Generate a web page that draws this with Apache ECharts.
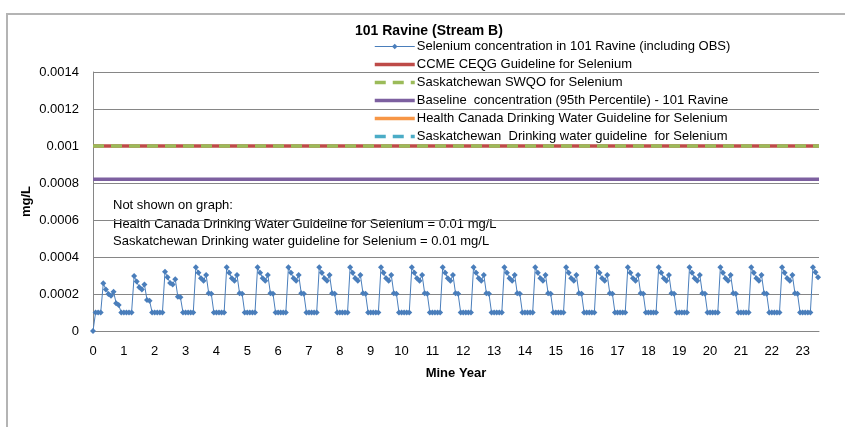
<!DOCTYPE html>
<html>
<head>
<meta charset="utf-8">
<script src="https://cdn.jsdelivr.net/npm/echarts@6/dist/echarts.min.js"></script>
<style>
html, body { margin: 0; padding: 0; background: #fff; }
#chart { width: 845px; height: 427px; }
</style>
</head>
<body>
<div id="chart"></div>
<script>
// monthly selenium concentration (mg/L), one row per mine year
var seleniumByYear = [
	[0, 0.0001, 0.0001, 0.0001, 0.000258, 0.000225, 0.0002, 0.00019, 0.000212, 0.00015, 0.00014, 0.0001],
	[0.0001, 0.0001, 0.0001, 0.0001, 0.000297, 0.000267, 0.000236, 0.000225, 0.000252, 0.000168, 0.000164, 0.0001],
	[0.0001, 0.0001, 0.0001, 0.0001, 0.00032, 0.00029, 0.00026, 0.000252, 0.00028, 0.000185, 0.000182, 0.0001],
	[0.0001, 0.0001, 0.0001, 0.0001, 0.000344, 0.000315, 0.000285, 0.000272, 0.000303, 0.000204, 0.000202, 0.0001],
	[0.0001, 0.0001, 0.0001, 0.0001, 0.000344, 0.000315, 0.000285, 0.000272, 0.000303, 0.000204, 0.000202, 0.0001],
	[0.0001, 0.0001, 0.0001, 0.0001, 0.000344, 0.000315, 0.000285, 0.000272, 0.000303, 0.000204, 0.000202, 0.0001],
	[0.0001, 0.0001, 0.0001, 0.0001, 0.000344, 0.000315, 0.000285, 0.000272, 0.000303, 0.000204, 0.000202, 0.0001],
	[0.0001, 0.0001, 0.0001, 0.0001, 0.000344, 0.000315, 0.000285, 0.000272, 0.000303, 0.000204, 0.000202, 0.0001],
	[0.0001, 0.0001, 0.0001, 0.0001, 0.000344, 0.000315, 0.000285, 0.000272, 0.000303, 0.000204, 0.000202, 0.0001],
	[0.0001, 0.0001, 0.0001, 0.0001, 0.000344, 0.000315, 0.000285, 0.000272, 0.000303, 0.000204, 0.000202, 0.0001],
	[0.0001, 0.0001, 0.0001, 0.0001, 0.000344, 0.000315, 0.000285, 0.000272, 0.000303, 0.000204, 0.000202, 0.0001],
	[0.0001, 0.0001, 0.0001, 0.0001, 0.000344, 0.000315, 0.000285, 0.000272, 0.000303, 0.000204, 0.000202, 0.0001],
	[0.0001, 0.0001, 0.0001, 0.0001, 0.000344, 0.000315, 0.000285, 0.000272, 0.000303, 0.000204, 0.000202, 0.0001],
	[0.0001, 0.0001, 0.0001, 0.0001, 0.000344, 0.000315, 0.000285, 0.000272, 0.000303, 0.000204, 0.000202, 0.0001],
	[0.0001, 0.0001, 0.0001, 0.0001, 0.000344, 0.000315, 0.000285, 0.000272, 0.000303, 0.000204, 0.000202, 0.0001],
	[0.0001, 0.0001, 0.0001, 0.0001, 0.000344, 0.000315, 0.000285, 0.000272, 0.000303, 0.000204, 0.000202, 0.0001],
	[0.0001, 0.0001, 0.0001, 0.0001, 0.000344, 0.000315, 0.000285, 0.000272, 0.000303, 0.000204, 0.000202, 0.0001],
	[0.0001, 0.0001, 0.0001, 0.0001, 0.000344, 0.000315, 0.000285, 0.000272, 0.000303, 0.000204, 0.000202, 0.0001],
	[0.0001, 0.0001, 0.0001, 0.0001, 0.000344, 0.000315, 0.000285, 0.000272, 0.000303, 0.000204, 0.000202, 0.0001],
	[0.0001, 0.0001, 0.0001, 0.0001, 0.000344, 0.000315, 0.000285, 0.000272, 0.000303, 0.000204, 0.000202, 0.0001],
	[0.0001, 0.0001, 0.0001, 0.0001, 0.000344, 0.000315, 0.000285, 0.000272, 0.000303, 0.000204, 0.000202, 0.0001],
	[0.0001, 0.0001, 0.0001, 0.0001, 0.000344, 0.000315, 0.000285, 0.000272, 0.000303, 0.000204, 0.000202, 0.0001],
	[0.0001, 0.0001, 0.0001, 0.0001, 0.000344, 0.000315, 0.000285, 0.000272, 0.000303, 0.000204, 0.000202, 0.0001],
	[0.0001, 0.0001, 0.0001, 0.0001, 0.000344, 0.000318, 0.00029]
];

// guideline values (mg/L)
var ccmeGuideline = 0.001;
var skSwqo = 0.001;
var baseline95 = 0.00082;
var hcDrinking = 0.01;
var skDrinking = 0.01;

var yearTicks = [0, 23.53];
var mgTicks = [0, 0.0014, 0.0002];

var seriesNames = [
	'Selenium concentration in 101 Ravine (including OBS)',
	'CCME CEQG Guideline for Selenium',
	'Saskatchewan SWQO for Selenium',
	'Baseline  concentration (95th Percentile) - 101 Ravine',
	'Health Canada Drinking Water Guideline for Selenium',
	'Saskatchewan  Drinking water guideline  for Selenium'
];

var font = '"Liberation Sans", Arial, sans-serif';

// mine year = year + month / 12
var seleniumPoints = [];
seleniumByYear.forEach(function (row, year) {
	row.forEach(function (v, month) {
		seleniumPoints.push([year + month / 12, v]);
	});
});

function flat(v) {
	return [[yearTicks[0], v], [yearTicks[1], v]];
}

// legend entries: only the measured series shows its marker
var legendData = seriesNames.map(function (name, i) {
	if (i === 0) return { name: name };
	return { name: name, itemStyle: { opacity: 0, color: 'transparent', borderWidth: 0 } };
});

var myChart = echarts.init(document.getElementById('chart'));
var option = {
	animation: false,
	backgroundColor: '#fff',
	textStyle: { fontFamily: font },
	title: {
		text: '101 Ravine (Stream B)',
		left: 350,
		top: 19,
		textStyle: { fontSize: 14, fontWeight: 'bold', color: '#000', fontFamily: font }
	},
	legend: {
		orient: 'vertical',
		left: 373,
		top: 40,
		itemWidth: 40,
		itemHeight: 7,
		itemGap: 5,
		padding: 0,
		data: legendData,
		lineStyle: { width: 'inherit' },
		textStyle: { fontSize: 13, lineHeight: 13, color: '#000', fontFamily: font, padding: [0, 0, 0, -3] }
	},
	grid: {
		left: 93,
		right: 26,
		top: 72,
		bottom: 96
	},
	xAxis: {
		type: 'value',
		name: 'Mine Year',
		nameLocation: 'middle',
		nameGap: 36,
		nameTextStyle: { fontSize: 13, fontWeight: 'bold', color: '#000' },
		min: yearTicks[0],
		max: yearTicks[1],
		interval: 1,
		axisLine: { lineStyle: { color: '#868686', width: 1 } },
		axisTick: { show: false },
		axisLabel: { color: '#000', fontSize: 13, margin: 14, showMaxLabel: false },
		splitLine: { show: false }
	},
	yAxis: {
		type: 'value',
		name: 'mg/L',
		nameLocation: 'middle',
		nameGap: 60,
		nameMoveOverlap: false,
		nameTextStyle: { fontSize: 13, fontWeight: 'bold', color: '#000' },
		min: mgTicks[0],
		max: mgTicks[1],
		interval: mgTicks[2],
		axisLine: { show: true, lineStyle: { color: '#868686', width: 1 } },
		axisTick: { show: false },
		axisLabel: {
			color: '#000', fontSize: 13, margin: 14,
			formatter: function (v) { return String(+v.toFixed(4)); }
		},
		splitLine: { lineStyle: { color: '#868686', width: 1 } }
	},
	graphic: [
		{
			type: 'rect',
			shape: { x: 7, y: 14, width: 900, height: 500 },
			style: { fill: 'none', stroke: '#b4b4b4', lineWidth: 2 },
			silent: true
		},
		{
			type: 'text', left: 113, top: 199,
			style: { text: 'Not shown on graph:', fill: '#000', font: '13px ' + font }
		},
		{
			type: 'text', left: 113, top: 218,
			style: { text: 'Health Canada Drinking Water Guideline for Selenium = 0.01 mg/L', fill: '#000', font: '13px ' + font }
		},
		{
			type: 'text', left: 113, top: 235,
			style: { text: 'Saskatchewan Drinking water guideline for Selenium = 0.01 mg/L', fill: '#000', font: '13px ' + font }
		}
	],
	series: [
		{
			name: seriesNames[0],
			type: 'line',
			data: seleniumPoints,
			symbol: 'diamond',
			symbolSize: 6,
			z: 5,
			itemStyle: { color: '#4a7ebb' },
			lineStyle: { color: '#4a7ebb', width: 1 }
		},
		{
			name: seriesNames[1],
			type: 'line',
			data: flat(ccmeGuideline),
			symbol: 'none',
			itemStyle: { color: '#be4b48' },
			lineStyle: { color: '#be4b48', width: 3.5 }
		},
		{
			name: seriesNames[2],
			type: 'line',
			data: flat(skSwqo),
			symbol: 'none',
			itemStyle: { color: '#9bbb59' },
			lineStyle: { color: '#9bbb59', width: 3.5, type: [11, 7] }
		},
		{
			name: seriesNames[3],
			type: 'line',
			data: flat(baseline95),
			symbol: 'none',
			itemStyle: { color: '#7d60a0' },
			lineStyle: { color: '#7d60a0', width: 3.5 }
		},
		{
			name: seriesNames[4],
			type: 'line',
			data: flat(hcDrinking),
			symbol: 'none',
			itemStyle: { color: '#f79646' },
			lineStyle: { color: '#f79646', width: 3.5 }
		},
		{
			name: seriesNames[5],
			type: 'line',
			data: flat(skDrinking),
			symbol: 'none',
			itemStyle: { color: '#4bacc6' },
			lineStyle: { color: '#4bacc6', width: 3.5, type: [11, 7] }
		}
	]
};
myChart.setOption(option, true);
</script>
</body>
</html>
